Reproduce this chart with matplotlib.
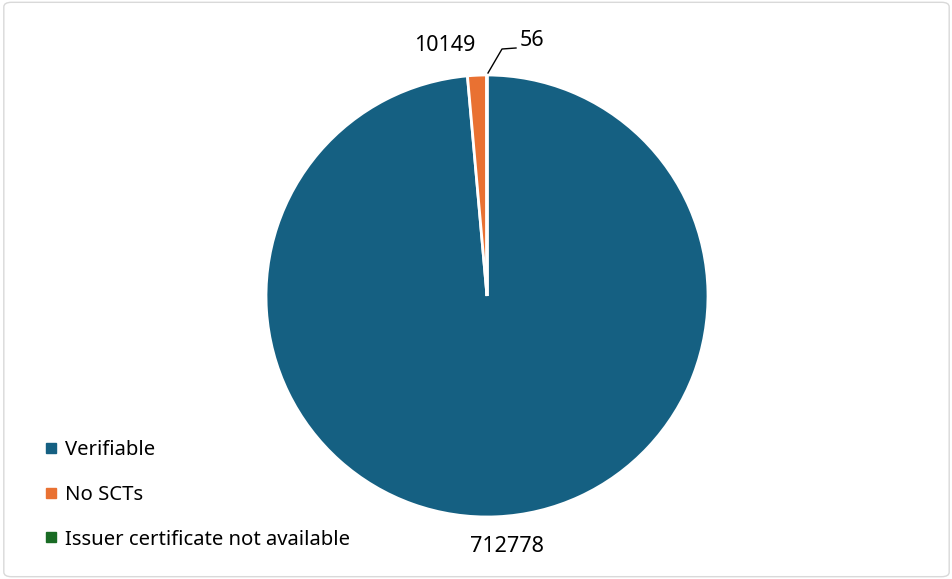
import matplotlib.pyplot as plt
from matplotlib.patches import FancyBboxPatch

plt.rcParams['font.family'] = ['Noto Sans', 'DejaVu Sans']

# data
categories = ['Verifiable', 'No SCTs', 'Issuer certificate not available']
counts = [712778, 10149, 56]
colors = ['#156082', '#E97132', '#196B24']

W, H = 953, 579
fig = plt.figure(figsize=(W / 100, H / 100), dpi=100)
ax = fig.add_axes([0, 0, 1, 1])

# outer chart border
fig.patches.append(FancyBboxPatch((0.004, 0.004), 0.992, 0.992,
                                  boxstyle='round,pad=0,rounding_size=0.008',
                                  transform=fig.transFigure, fill=False,
                                  edgecolor='#d9d9d9', linewidth=1))

cx, cy, r = 487, H - 296, 221
wedges, _ = ax.pie(counts, colors=colors, startangle=90, counterclock=False,
                   center=(cx, cy), radius=r, frame=True,
                   wedgeprops=dict(edgecolor='white', linewidth=2))
ax.set_xlim(0, W)
ax.set_ylim(0, H)
ax.set_aspect('equal')
ax.axis('off')

# data labels
ax.text(507, H - 547, f'{counts[0]}', fontsize=15.5, ha='center', va='center', color='#000000')
ax.text(445, H - 45, f'{counts[1]}', fontsize=15.5, ha='center', va='center', color='#000000')
ax.text(532, H - 40, f'{counts[2]}', fontsize=15.5, ha='center', va='center', color='#000000')
ax.plot([488, 502, 516], [H - 73, H - 49, H - 48], color='black', linewidth=1)

# legend
handles = [plt.Line2D([], [], marker='s', linestyle='', markersize=7,
                      markerfacecolor=c, markeredgecolor=c) for c in colors]
ax.legend(handles, categories, loc='upper left', bbox_to_anchor=(31 / W, 1 - 432 / H),
          bbox_transform=fig.transFigure, frameon=False, fontsize=14.6,
          handletextpad=0.1, handlelength=1.2, labelspacing=1.22, borderaxespad=0)

fig.savefig('out.png', dpi=100)
